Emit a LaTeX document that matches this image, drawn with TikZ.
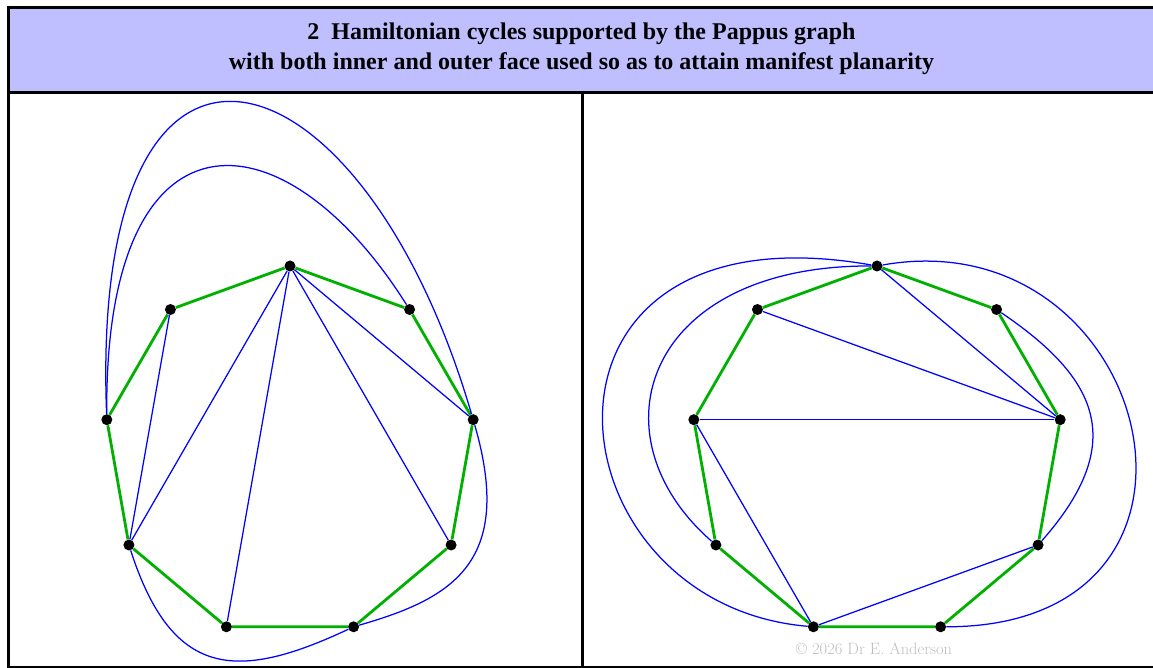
\documentclass[tikz,border=0pt]{standalone}
\usepackage{fontspec}
\newfontfamily\titlefont{Liberation Serif}
\usepackage{xcolor}
\usepackage{tikz}
\usetikzlibrary{
  calc
}
\definecolor{hamgreen}{RGB}{0,176,0}

\begin{document}
\begin{tikzpicture}[
  x=1pt,
  y=1pt,
  vtx/.style={
    circle,
    fill=black,
    inner sep=0pt,
    minimum size=11pt
  },
  ham/.style={
    draw=hamgreen,
    line width=2.8pt,
    line join=round
  },
  link/.style={
    draw=blue,
    line width=1.25pt
  },
  frameline/.style={
    draw=black,
    line width=3pt
  }
]
\useasboundingbox (0,0) rectangle (1153,667);

% Title band
\fill[blue!25] (8,574) rectangle (1155,659);
\node[font=\titlefont\bfseries\fontsize{24}{30}\selectfont, align=center] (title) at (581.5,618)
  {2~~Hamiltonian cycles supported by the Pappus graph\\with both inner and outer face used so as to attain manifest planarity};

% Frame
\draw[frameline] (8,-0.5) rectangle (1155,659);
\draw[frameline] (8,574) -- (1155,574);
\draw[frameline] (582,574) -- (582,-0.5);

% Left panel vertices
\coordinate (cL) at (290,215);
\node[vtx] (a0) at ($(cL)+(90:186)$) {};
\node[vtx] (a1) at ($(cL)+(130:186)$) {};
\node[vtx] (a2) at ($(cL)+(170:186)$) {};
\node[vtx] (a3) at ($(cL)+(210:186)$) {};
\node[vtx] (a4) at ($(cL)+(250:186)$) {};
\node[vtx] (a5) at ($(cL)+(290:186)$) {};
\node[vtx] (a6) at ($(cL)+(330:186)$) {};
\node[vtx] (a7) at ($(cL)+(10:186)$) {};
\node[vtx] (a8) at ($(cL)+(50:186)$) {};

% Right panel vertices
\coordinate (cR) at (877,215);
\node[vtx] (b0) at ($(cR)+(90:186)$) {};
\node[vtx] (b1) at ($(cR)+(130:186)$) {};
\node[vtx] (b2) at ($(cR)+(170:186)$) {};
\node[vtx] (b3) at ($(cR)+(210:186)$) {};
\node[vtx] (b4) at ($(cR)+(250:186)$) {};
\node[vtx] (b5) at ($(cR)+(290:186)$) {};
\node[vtx] (b6) at ($(cR)+(330:186)$) {};
\node[vtx] (b7) at ($(cR)+(10:186)$) {};
\node[vtx] (b8) at ($(cR)+(50:186)$) {};

% Hamiltonian cycles
\draw[ham] (a0) -- (a1) -- (a2) -- (a3) -- (a4) -- (a5) -- (a6) -- (a7) -- (a8) -- (a0);
\draw[ham] (b0) -- (b1) -- (b2) -- (b3) -- (b4) -- (b5) -- (b6) -- (b7) -- (b8) -- (b0);

% Left panel remaining edges
\draw[link] (a0) -- (a3);
\draw[link] (a0) -- (a4);
\draw[link] (a0) -- (a6);
\draw[link] (a0) -- (a7);
\draw[link] (a1) -- (a3);
\draw[link] (a2) .. controls (104,567) and (282,560) .. (a8);
\draw[link] (a2) .. controls (89,707) and (361,631) .. (a7);
\draw[link] (a7) .. controls (515,103) and (450,68) .. (a5);
\draw[link] (a3) .. controls (172,-11) and (236,-15) .. (a5);

% Right panel remaining edges
\draw[link] (b0) -- (b7);
\draw[link] (b1) -- (b7);
\draw[link] (b2) -- (b7);
\draw[link] (b2) -- (b4);
\draw[link] (b4) -- (b6);
\draw[link] (b0) .. controls (645,402) and (590,232) .. (b3);
\draw[link] (b0) .. controls (503,467) and (544,63) .. (b4);
\draw[link] (b0) .. controls (1153,450) and (1255,40) .. (b5);
\draw[link] (b8) .. controls (1096,290) and (1130,226) .. (b6);

% Credit
\node[text=black!25, font=\fontsize{16.5}{19}\selectfont] (credit) at (874,18) {\textcopyright\ 2026 Dr E. Anderson};

\end{tikzpicture}
\end{document}
